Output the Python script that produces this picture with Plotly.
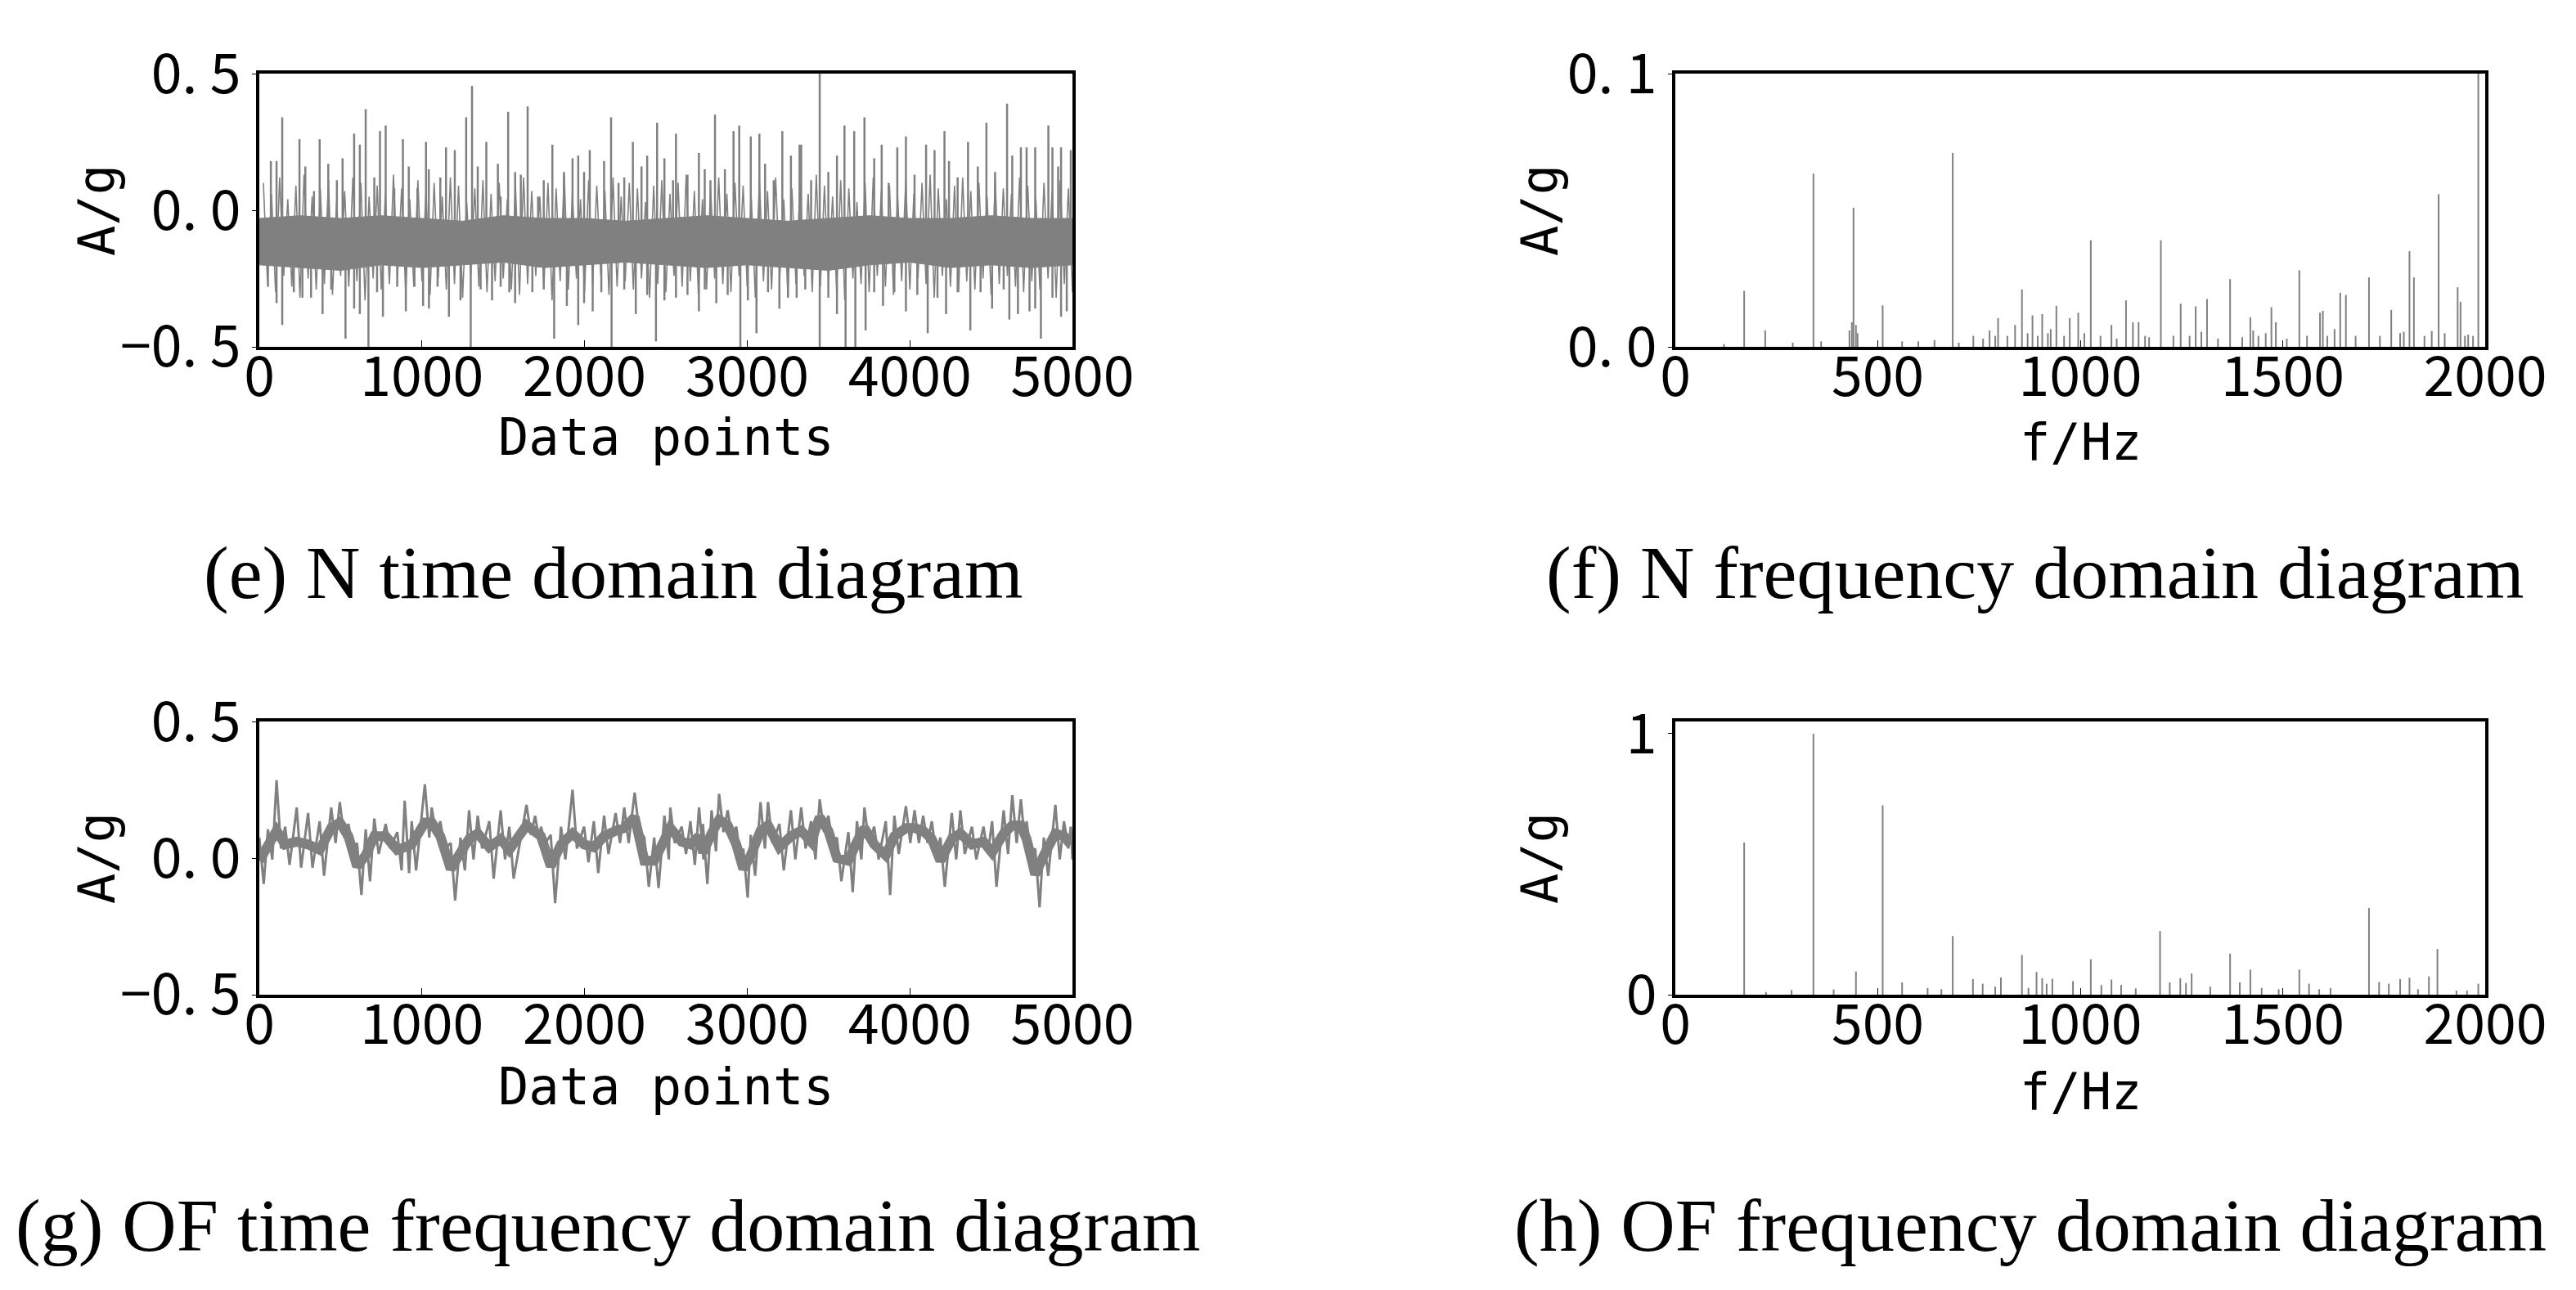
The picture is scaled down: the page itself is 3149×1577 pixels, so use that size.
import plotly.graph_objects as go

W, H = 3149, 1577
DX, DY = -6, -4  # page offset correction
GRAY = "#808080"
TICK_FONT = dict(family="Liberation Sans Narrow, Noto Sans CJK SC", size=68, color="black")
LABEL_FONT = dict(family="DejaVu Sans Mono", size=62, color="black")
TITLE_FONT = dict(family="Liberation Serif", size=92, color="black")

# (e) N time domain: dense core band, fine oscillation and spike peaks
n_core_x = [0, 250, 500, 750, 1000, 1250, 1500, 1750, 2000, 2250, 2500,
            2750, 3000, 3250, 3500, 3750, 4000, 4250, 4500, 4750, 5000]
n_core_hi = [-0.03, -0.02, -0.03, -0.02, -0.03, -0.04, -0.02, -0.03, -0.03, -0.04, -0.03,
             -0.02, -0.03, -0.04, -0.03, -0.02, -0.03, -0.03, -0.02, -0.03, -0.03]
n_core_lo = [-0.20, -0.21, -0.22, -0.20, -0.21, -0.20, -0.19, -0.21, -0.20, -0.19, -0.20,
             -0.21, -0.20, -0.21, -0.22, -0.20, -0.19, -0.21, -0.20, -0.21, -0.20]

n_fine_x = list(range(25, 5000, 50))
n_fine_hi = [0.10, 0.06, 0.12, 0.04, 0.09, 0.13, 0.05, 0.08, 0.11, 0.03, 0.07, 0.12, 0.10,
             0.05, 0.09, 0.06, 0.13, 0.08, 0.04, 0.11, 0.07, 0.10, 0.05, 0.12, 0.09, 0.03,
             0.08, 0.11, 0.06, 0.10, 0.04, 0.09, 0.12, 0.07, 0.05, 0.10, 0.08, 0.13, 0.06,
             0.04, 0.11, 0.09, 0.07, 0.12, 0.05, 0.10, 0.08, 0.03, 0.09, 0.11, 0.06, 0.10,
             0.13, 0.07, 0.04, 0.08, 0.12, 0.06, 0.10, 0.09, 0.05, 0.11, 0.07, 0.12, 0.04,
             0.08, 0.10, 0.06, 0.13, 0.09, 0.05, 0.11, 0.08, 0.03, 0.10, 0.12, 0.07, 0.09,
             0.05, 0.11, 0.06, 0.10, 0.13, 0.08, 0.04, 0.09, 0.12, 0.07, 0.10, 0.05, 0.11,
             0.08, 0.06, 0.12, 0.09, 0.04, 0.10, 0.07, 0.11, 0.08]
n_fine_lo = [-0.26, -0.30, -0.24, -0.28, -0.32, -0.25, -0.29, -0.27, -0.31, -0.24, -0.28,
             -0.26, -0.33, -0.25, -0.29, -0.27, -0.24, -0.30, -0.28, -0.26, -0.31, -0.25,
             -0.29, -0.27, -0.32, -0.24, -0.28, -0.30, -0.26, -0.25, -0.29, -0.31, -0.27,
             -0.24, -0.28, -0.33, -0.26, -0.29, -0.25, -0.30, -0.27, -0.24, -0.31, -0.28,
             -0.26, -0.29, -0.25, -0.32, -0.27, -0.30, -0.24, -0.28, -0.26, -0.31, -0.29,
             -0.25, -0.27, -0.30, -0.24, -0.28, -0.32, -0.26, -0.29, -0.25, -0.31, -0.27,
             -0.24, -0.30, -0.28, -0.26, -0.29, -0.33, -0.25, -0.27, -0.30, -0.24, -0.28,
             -0.31, -0.26, -0.29, -0.25, -0.27, -0.32, -0.24, -0.28, -0.30, -0.26, -0.29,
             -0.25, -0.31, -0.27, -0.24, -0.28, -0.30, -0.26, -0.29, -0.25, -0.32, -0.27, -0.30]

n_up_x = [141, 247, 371, 512, 654, 777, 883, 1025, 1148, 1272, 1308, 1396, 1530, 1650,
          1802, 1926, 2032, 2163, 2297, 2446, 2562, 2703, 2802, 2951, 3075, 3216, 3332,
          3446, 3598, 3721, 3827, 3976, 4100, 4213, 4358, 4471, 4598, 4718, 4852, 4930, 4990,
          71, 106, 283, 336, 424, 477, 583, 618, 707, 742, 830, 919, 972, 1042, 1113, 1202,
          1343, 1467, 1484, 1573, 1608, 1714, 1749, 1873, 1961, 1997, 2120, 2209, 2244, 2350,
          2385, 2491, 2544, 2633, 2739, 2774, 2863, 2916, 3022, 3110, 3163, 3269, 3322, 3393,
          3499, 3552, 3658, 3781, 3870, 3923, 4029, 4152, 4241, 4294, 4418, 4524, 4630, 4683,
          4771, 4877, 4912]
n_up_y = [0.34, 0.26, 0.26, 0.19, 0.37, 0.31, 0.26, 0.25, 0.23, 0.34, 0.455, 0.25, 0.36, 0.38,
          0.24, 0.19, 0.22, 0.34, 0.25, 0.32, 0.28, 0.21, 0.35, 0.31, 0.28, 0.29, 0.24,
          0.52, 0.31, 0.34, 0.24, 0.27, 0.24, 0.29, 0.25, 0.32, 0.39, 0.23, 0.31, 0.23, 0.22,
          0.18, 0.18, 0.16, 0.07, 0.17, 0.11, 0.28, 0.24, 0.12, 0.29, 0.08, 0.16, 0.08, 0.15,
          0.12, 0.22, 0.16, 0.17, 0.05, 0.14, 0.13, 0.05, 0.11, 0.14, 0.20, 0.14, 0.18, 0.10,
          0.12, 0.16, 0.20, 0.19, 0.11, 0.13, 0.15, 0.11, 0.15, 0.29, 0.27, 0.17, 0.11, 0.20,
          0.24, 0.11, 0.14, 0.20, 0.29, 0.19, 0.10, 0.23, 0.13, 0.22, 0.18, 0.12, 0.16, 0.14,
          0.20, 0.23, 0.23, 0.23, 0.16]

n_dn_x = [53, 141, 265, 389, 530, 671, 760, 901, 1043, 1166, 1300, 1431, 1573, 1679, 1813,
          1961, 2050, 2166, 2315, 2439, 2562, 2703, 2810, 2958, 3057, 3198, 3304, 3446, 3605,
          3665, 3728, 3835, 3976, 4110, 4223, 4372, 4506, 4612, 4736, 4806, 4930,
          106, 212, 318, 442, 583, 618, 724, 848, 954, 1007, 1096, 1237, 1361, 1484, 1537,
          1749, 1891, 1997, 2103, 2244, 2385, 2491, 2633, 2739, 2880, 3004, 3128, 3251, 3357,
          3499, 3552, 3781, 3905, 4046, 4170, 4294, 4435, 4577, 4665, 4771, 4877, 4965]
n_dn_y = [-0.28, -0.42, -0.32, -0.38, -0.47, -0.50, -0.39, -0.37, -0.36, -0.39, -0.50, -0.33,
          -0.34, -0.30, -0.47, -0.42, -0.37, -0.50, -0.38, -0.48, -0.32, -0.37, -0.34, -0.50,
          -0.45, -0.36, -0.32, -0.50, -0.50, -0.50, -0.44, -0.35, -0.37, -0.45, -0.38, -0.44,
          -0.36, -0.40, -0.37, -0.47, -0.39,
          -0.34, -0.30, -0.32, -0.29, -0.36, -0.38, -0.30, -0.28, -0.28, -0.35, -0.28, -0.33,
          -0.29, -0.28, -0.30, -0.29, -0.35, -0.34, -0.30, -0.29, -0.31, -0.33, -0.31, -0.29,
          -0.31, -0.33, -0.30, -0.32, -0.29, -0.32, -0.38, -0.30, -0.30, -0.31, -0.32, -0.30,
          -0.30, -0.29, -0.38, -0.36, -0.32, -0.37]
n_mid = -0.11

# (f) N frequency spectrum peaks
n_freq = [170, 222, 341, 440, 512, 685, 736, 776, 797, 839, 856, 882, 906, 927, 941, 974,
          995, 1026, 1077, 1113, 1130, 1144, 1199, 1248, 1285, 1299, 1313, 1370, 1420, 1427,
          1458, 1472, 1483, 1541, 1592, 1599, 1628, 1642, 1656, 1713, 1768, 1799, 1813, 1824,
          1868, 1885, 1932, 1939, 1958, 1983,
          120, 290, 360, 430, 436, 446, 450, 560, 600, 640, 700, 760, 790, 820, 870, 895, 920,
          960, 1010, 1050, 1090, 1160, 1170, 1230, 1270, 1340, 1400, 1440, 1510, 1560, 1610,
          1680, 1740, 1790, 1850, 1900, 1950, 1970]
n_amp = [0.0205, 0.006, 0.0634, 0.0509, 0.0152, 0.071, 0.004, 0.006, 0.0105, 0.008, 0.021,
         0.0115, 0.012, 0.0065, 0.015, 0.0105, 0.0125, 0.039, 0.008, 0.017, 0.009, 0.009,
         0.039, 0.0158, 0.0148, 0.0055, 0.0175, 0.0248, 0.0108, 0.006, 0.005, 0.0145, 0.009,
         0.028, 0.0125, 0.0132, 0.0065, 0.0198, 0.019, 0.0254, 0.0135, 0.0055, 0.035, 0.0254,
         0.0058, 0.0559, 0.0218, 0.0165, 0.0045, 0.1,
         0.001, 0.0015, 0.002, 0.006, 0.009, 0.008, 0.005, 0.002, 0.002, 0.0025, 0.0015,
         0.003, 0.004, 0.004, 0.005, 0.004, 0.005, 0.004, 0.005, 0.004, 0.003, 0.004, 0.0035,
         0.004, 0.004, 0.003, 0.0035, 0.004, 0.003, 0.004, 0.004, 0.004, 0.004, 0.005, 0.004,
         0.005, 0.004, 0.004]

# (g) OF time domain: local upper / lower extremes and the dense centre of the signal
of_x = [0, 53, 106, 159, 230, 300, 371, 442, 495, 548, 601, 654, 707, 777, 848, 894, 937,
        1018, 1060, 1113, 1177, 1237, 1290, 1343, 1414, 1484, 1537, 1643, 1696, 1732, 1792,
        1855, 1926, 1997, 2057, 2120, 2191, 2244, 2308, 2368, 2428, 2491, 2527, 2597, 2651,
        2704, 2728, 2781, 2827, 2880, 2933, 2976, 3022, 3082, 3128, 3198, 3269, 3332, 3393,
        3446, 3499, 3552, 3622, 3675, 3721, 3781, 3852, 3905, 3976, 4029, 4082, 4135, 4188,
        4258, 4311, 4382, 4453, 4506, 4577, 4630, 4683, 4718, 4771, 4824, 4895, 4948, 4990]
of_hi = [0.075, 0.105, 0.285, 0.115, 0.185, 0.165, 0.135, 0.185, 0.205, 0.125, 0.055, 0.105,
         0.145, 0.125, 0.095, 0.21, 0.135, 0.27, 0.185, 0.135, 0.055, 0.075, 0.175, 0.155,
         0.135, 0.175, 0.115, 0.195, 0.155, 0.115, 0.085, 0.115, 0.25, 0.115, 0.135, 0.155,
         0.165, 0.185, 0.24, 0.075, 0.075, 0.155, 0.185, 0.115, 0.135, 0.185, 0.125, 0.175,
         0.235, 0.175, 0.115, 0.035, 0.085, 0.205, 0.205, 0.125, 0.175, 0.185, 0.135, 0.215,
         0.155, 0.075, 0.095, 0.135, 0.185, 0.115, 0.135, 0.155, 0.19, 0.175, 0.155, 0.135,
         0.075, 0.165, 0.175, 0.115, 0.115, 0.135, 0.175, 0.23, 0.215, 0.135, 0.035, 0.075,
         0.195, 0.135, 0.115]
of_lo = [-0.095, -0.005, 0.035, -0.025, -0.035, -0.035, -0.065, 0.055, 0.075, 0.035, -0.135,
         -0.085, 0.015, 0.035, -0.045, -0.055, -0.045, 0.075, 0.085, 0.035, -0.155, -0.045,
         -0.005, 0.035, -0.075, -0.005, -0.075, 0.085, 0.055, 0.055, -0.165, -0.005, 0.035,
         -0.015, -0.055, 0.015, 0.055, 0.055, 0.105, -0.105, -0.11, -0.005, 0.055, 0.015,
         -0.025, -0.005, -0.095, 0.025, 0.095, 0.075, -0.005, -0.145, -0.065, 0.035, 0.055,
         -0.045, -0.005, 0.035, -0.005, 0.095, 0.055, -0.085, -0.125, -0.005, 0.055, -0.005,
         -0.135, 0.015, 0.055, 0.055, 0.055, 0.015, -0.105, -0.005, 0.015, -0.005, 0.015,
         -0.105, 0.015, 0.055, 0.045, 0.015, -0.18, -0.065, -0.005, 0.035, -0.005]
of_mid = [-0.01, 0.05, 0.10, 0.05, 0.06, 0.05, 0.03, 0.11, 0.13, 0.08, -0.03, 0.01, 0.08,
          0.08, 0.03, 0.04, 0.05, 0.13, 0.13, 0.08, -0.04, 0.02, 0.07, 0.09, 0.04, 0.07, 0.03,
          0.12, 0.10, 0.08, -0.03, 0.05, 0.09, 0.05, 0.04, 0.08, 0.10, 0.11, 0.15, -0.01,
          -0.01, 0.07, 0.11, 0.06, 0.05, 0.08, 0.02, 0.09, 0.14, 0.12, 0.05, -0.04, 0.01,
          0.10, 0.12, 0.04, 0.08, 0.10, 0.06, 0.15, 0.10, 0.00, -0.01, 0.06, 0.11, 0.05,
          0.01, 0.08, 0.11, 0.11, 0.10, 0.07, -0.01, 0.07, 0.09, 0.05, 0.06, 0.02, 0.09,
          0.12, 0.12, 0.07, -0.06, 0.01, 0.09, 0.08, 0.05]

# (h) OF frequency spectrum peaks
of_freq = [170, 224, 287, 341, 391, 446, 512, 560, 623, 657, 685, 735, 759, 790, 804, 856,
           872, 892, 906, 917, 931, 982, 1026, 1052, 1077, 1101, 1137, 1197, 1221, 1247, 1261,
           1275, 1321, 1370, 1394, 1420, 1448, 1490, 1541, 1565, 1590, 1618, 1713, 1738, 1762,
           1790, 1813, 1834, 1861, 1882, 1929, 1955, 1983]
of_amp = [0.583, 0.01, 0.018, 1.0, 0.02, 0.089, 0.726, 0.047, 0.026, 0.021, 0.225, 0.06,
          0.042, 0.031, 0.066, 0.152, 0.026, 0.087, 0.063, 0.042, 0.061, 0.052, 0.136, 0.037,
          0.058, 0.037, 0.024, 0.244, 0.047, 0.063, 0.045, 0.081, 0.031, 0.157, 0.047, 0.096,
          0.026, 0.021, 0.096, 0.042, 0.021, 0.026, 0.332, 0.049, 0.042, 0.06, 0.065, 0.021,
          0.07, 0.175, 0.016, 0.016, 0.042]


def stems(xs, ys, base):
    sx, sy = [], []
    for x, y in zip(xs, ys):
        sx += [x, x, None]
        sy += [base, y, None]
    return sx, sy


def zigzag(xs, his, los, half):
    zx, zy = [], []
    for x, hi, lo in zip(xs, his, los):
        zx += [x, min(x + half, 5000)]
        zy += [hi, lo]
    return zx, zy


# panel boxes in pixels: left, right, top, bottom
boxes = {
    "e": (315, 1309, 86, 420),
    "f": (2046, 3036, 86, 420),
    "g": (315, 1309, 878, 1212),
    "h": (2046, 3036, 878, 1212),
}
axis_ids = {"e": ("x", "y"), "f": ("x2", "y2"), "g": ("x3", "y3"), "h": ("x4", "y4")}

fig = go.Figure()

# (e)
fig.add_trace(go.Scatter(x=n_core_x, y=n_core_hi, mode="lines", line=dict(color=GRAY, width=1),
                         xaxis="x", yaxis="y", hoverinfo="skip"))
fig.add_trace(go.Scatter(x=n_core_x, y=n_core_lo, mode="lines", line=dict(color=GRAY, width=1),
                         fill="tonexty", fillcolor=GRAY, xaxis="x", yaxis="y", hoverinfo="skip"))
zx, zy = zigzag(n_fine_x, n_fine_hi, n_fine_lo, 25)
fig.add_trace(go.Scatter(x=zx, y=zy, mode="lines", line=dict(color=GRAY, width=1.6),
                         xaxis="x", yaxis="y", hoverinfo="skip"))
sx, sy = stems(n_up_x + n_dn_x, n_up_y + n_dn_y, n_mid)
fig.add_trace(go.Scatter(x=sx, y=sy, mode="lines", line=dict(color=GRAY, width=2.5),
                         xaxis="x", yaxis="y"))

# (f)
sx, sy = stems(n_freq, n_amp, 0)
fig.add_trace(go.Scatter(x=sx, y=sy, mode="lines", line=dict(color=GRAY, width=2),
                         xaxis="x2", yaxis="y2"))

# (g)
fig.add_trace(go.Scatter(x=of_x, y=of_mid, mode="lines", line=dict(color=GRAY, width=12),
                         xaxis="x3", yaxis="y3", hoverinfo="skip"))
zx, zy = zigzag(of_x, of_hi, of_lo, 27)
fig.add_trace(go.Scatter(x=zx, y=zy, mode="lines", line=dict(color=GRAY, width=3),
                         xaxis="x3", yaxis="y3"))

# (h)
sx, sy = stems(of_freq, of_amp, 0)
fig.add_trace(go.Scatter(x=sx, y=sy, mode="lines", line=dict(color=GRAY, width=2),
                         xaxis="x4", yaxis="y4"))

layout = dict(
    width=W, height=H, showlegend=False, template="none",
    paper_bgcolor="white", plot_bgcolor="white",
    margin=dict(l=0, r=0, t=0, b=0, autoexpand=False),
)

time_x = dict(range=[0, 5000], tickvals=[0, 1000, 2000, 3000, 4000, 5000])
freq_x = dict(range=[0, 2000], tickvals=[0, 500, 1000, 1500, 2000])
y_specs = {
    "e": dict(range=[-0.5, 0.5], tickvals=[-0.5, 0, 0.5], ticktext=["−0. 5", "0. 0", "0. 5"]),
    "f": dict(range=[0, 0.1], tickvals=[0, 0.1], ticktext=["0. 0", "0. 1"]),
    "g": dict(range=[-0.5, 0.5], tickvals=[-0.5, 0, 0.5], ticktext=["−0. 5", "0. 0", "0. 5"]),
    "h": dict(range=[0, 1.047], tickvals=[0, 1], ticktext=["0", "1"]),
}

for key, (l, r, t, b) in boxes.items():
    l, r, t, b = l + DX, r + DX, t + DY, b + DY
    xa, ya = axis_ids[key]
    xname = "xaxis" if xa == "x" else "xaxis" + xa[1:]
    yname = "yaxis" if ya == "y" else "yaxis" + ya[1:]
    xspec = time_x if key in ("e", "g") else freq_x
    layout[xname] = dict(
        domain=[l / W, r / W], anchor=ya, showgrid=False, zeroline=False, automargin=False,
        showline=True, mirror=True, linecolor="black", linewidth=4,
        ticks="inside", ticklen=8, tickcolor="black", tickfont=TICK_FONT,
        ticklabelstandoff=-26, **xspec,
    )
    layout[yname] = dict(
        domain=[1 - b / H, 1 - t / H], anchor=xa, showgrid=False, zeroline=False,
        automargin=False, showline=True, mirror=True, linecolor="black", linewidth=4,
        ticks="outside", ticklen=5, tickcolor="black", tickfont=TICK_FONT, **y_specs[key],
    )

fig.update_layout(**layout)


def px_annot(text, x, y, font, angle=0):
    fig.add_annotation(text=text, x=(x + DX) / W, y=1 - (y + DY) / H, xref="paper",
                       yref="paper", showarrow=False, xanchor="center", yanchor="middle",
                       font=font, textangle=angle)


px_annot("Data points", 812, 530, LABEL_FONT)
px_annot("Data points", 812, 1324, LABEL_FONT)
px_annot("f/Hz", 2541, 536, LABEL_FONT)
px_annot("f/Hz", 2541, 1330, LABEL_FONT)
for xx, yy in [(116, 253), (116, 1045), (1880, 253), (1880, 1045)]:
    px_annot("A/g", xx, yy, LABEL_FONT, angle=-90)

px_annot("(e) N time domain diagram", 747, 696, TITLE_FONT)
px_annot("(f) N frequency domain diagram", 2486, 696, TITLE_FONT)
px_annot("(g) OF time frequency domain diagram", 741, 1494, TITLE_FONT)
px_annot("(h) OF frequency domain diagram", 2480, 1494, TITLE_FONT)

fig.write_html("out.html")
